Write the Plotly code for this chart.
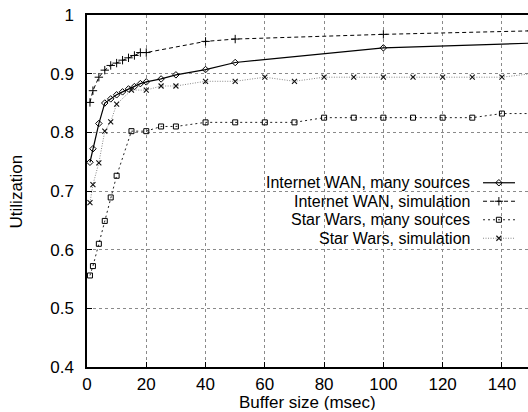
import plotly.graph_objects as go

# Buffer sizes (msec) and measured utilization for each experiment
wan_many_x = [1, 2, 4, 6, 8, 10, 12, 14, 16, 18, 20, 25, 30, 40, 50, 100, 150]
wan_many_y = [0.749, 0.772, 0.815, 0.850, 0.857, 0.864, 0.869, 0.874, 0.878,
              0.883, 0.886, 0.891, 0.898, 0.907, 0.919, 0.944, 0.952]

wan_sim_x = [1, 2, 4, 6, 8, 10, 12, 14, 16, 18, 20, 40, 50, 100, 150]
wan_sim_y = [0.851, 0.871, 0.894, 0.906, 0.914, 0.918, 0.923, 0.927, 0.931,
             0.936, 0.936, 0.955, 0.959, 0.967, 0.973]

sw_x = [1, 2, 4, 6, 8, 10, 15, 20, 25, 30, 40, 50, 60, 70, 80, 90, 100,
        110, 120, 130, 140, 150]
sw_many_y = [0.556, 0.572, 0.610, 0.649, 0.689, 0.726, 0.802, 0.802, 0.810,
             0.810, 0.817, 0.817, 0.817, 0.817, 0.825, 0.825, 0.825, 0.825,
             0.825, 0.825, 0.832, 0.832]
sw_sim_y = [0.680, 0.711, 0.748, 0.802, 0.818, 0.848, 0.872, 0.872, 0.879,
            0.879, 0.887, 0.887, 0.894, 0.887, 0.894, 0.894, 0.894, 0.894,
            0.894, 0.894, 0.894, 0.900]

names = ["Internet WAN, many sources", "Internet WAN, simulation",
         "Star Wars, many sources", "Star Wars, simulation"]

x_ticks = [0, 20, 40, 60, 80, 100, 120, 140]
y_ticks = [0.4, 0.5, 0.6, 0.7, 0.8, 0.9, 1.0]
y_tick_text = ["0.4", "0.5", "0.6", "0.7", "0.8", "0.9", "1"]

FONT = "Liberation Sans, Arial, sans-serif"
FS = 17
KEY_FS = 16

styles = [
    dict(line=dict(color="#000000", width=1.2, dash="solid"),
         marker=dict(symbol="diamond-open", size=5, color="#000000", line=dict(width=1))),
    dict(line=dict(color="#000000", width=1.0, dash="4px,3px"),
         marker=dict(symbol="cross-thin-open", size=6, color="#000000", line=dict(width=1))),
    dict(line=dict(color="#222222", width=1.0, dash="2px,3px"),
         marker=dict(symbol="square-open", size=5, color="#000000", line=dict(width=1))),
    dict(line=dict(color="#888888", width=1.0, dash="1px,1.5px"),
         marker=dict(symbol="x-thin-open", size=5, color="#111111", line=dict(width=1.1))),
]

series = [(wan_many_x, wan_many_y), (wan_sim_x, wan_sim_y),
          (sw_x, sw_many_y), (sw_x, sw_sim_y)]

fig = go.Figure()
for (xs, ys), st, nm in zip(series, styles, names):
    fig.add_trace(go.Scatter(x=xs, y=ys, mode="lines+markers", name=nm,
                             line=st["line"], marker=st["marker"],
                             showlegend=False))

# Key: right-aligned labels with the line sample to their right
key_rows = [0.5234, 0.4709, 0.4183, 0.3658]
for yk, st, nm in zip(key_rows, styles, names):
    fig.add_trace(go.Scatter(x=[0.898, 0.9705], y=[yk, yk], mode="lines",
                             line=st["line"], xaxis="x2", yaxis="y2",
                             showlegend=False, hoverinfo="skip"))
    fig.add_trace(go.Scatter(x=[0.934], y=[yk], mode="markers",
                             marker=st["marker"], xaxis="x2", yaxis="y2",
                             showlegend=False, hoverinfo="skip"))
    fig.add_annotation(x=0.871, y=yk, xref="x2", yref="y2", text=nm,
                       showarrow=False, xanchor="right", yanchor="middle",
                       borderpad=0,
                       font=dict(family=FONT, size=KEY_FS, color="#000000"))

grid = dict(showgrid=True, gridcolor="#8a8a8a", gridwidth=1, griddash="dot")

fig.update_layout(
    width=528, height=412,
    margin=dict(l=87, r=0, t=15, b=45),
    paper_bgcolor="white", plot_bgcolor="white",
    font=dict(family=FONT, size=FS, color="#000000"),
    xaxis=dict(range=[0, 148.8], tickvals=x_ticks, ticks="inside", ticklen=5,
               tickcolor="#000000", showline=True, linecolor="#000000",
               linewidth=1.5, mirror=True, zeroline=False,
               ticklabelstandoff=1, **grid),
    yaxis=dict(range=[0.4, 1.0], tickvals=y_ticks, ticktext=y_tick_text,
               ticks="inside", ticklen=5, tickcolor="#000000", showline=True,
               linecolor="#000000", linewidth=1.5, zeroline=False,
               ticklabelstandoff=8, **grid),
    xaxis2=dict(range=[0, 1], overlaying="x", visible=False),
    yaxis2=dict(range=[0, 1], overlaying="y", visible=False),
)

fig.add_annotation(x=0.5, y=-0.102, xref="paper", yref="paper",
                   text="Buffer size (msec)", showarrow=False,
                   xanchor="center", yanchor="middle", height=15, borderpad=0,
                   font=dict(family=FONT, size=FS))
fig.add_annotation(x=-0.16, y=0.5, xref="paper", yref="paper",
                   text="Utilization", showarrow=False, textangle=-90,
                   xanchor="center", yanchor="middle",
                   font=dict(family=FONT, size=FS))

fig.write_html("out.html")
